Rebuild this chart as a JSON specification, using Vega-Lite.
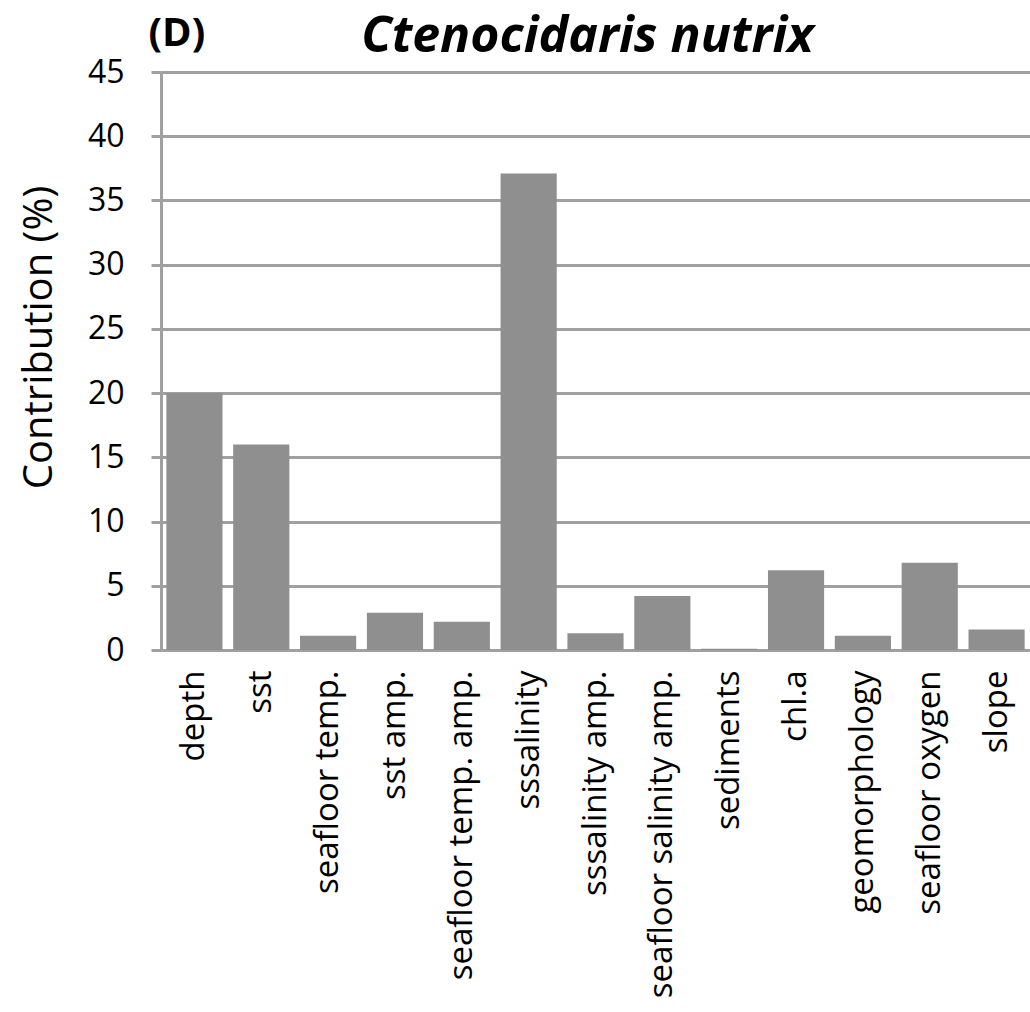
{
  "$schema": "https://vega.github.io/schema/vega-lite/v6.json",
  "autosize": {"type": "none"},
  "padding": {"left": 161, "top": 72, "right": 0, "bottom": 362},
  "width": 869,
  "height": 578,
  "background": "white",
  "title": {
    "text": "Ctenocidaris nutrix",
    "font": "Open Sans",
    "fontSize": 50,
    "fontWeight": "bold",
    "fontStyle": "italic",
    "color": "black",
    "anchor": "middle",
    "frame": "group",
    "baseline": "alphabetic",
    "offset": -89,
    "dx": -8
  },
  "data": {
    "values": [
      {"variable": "depth", "contribution": 20.0},
      {"variable": "sst", "contribution": 16.0},
      {"variable": "seafloor temp.", "contribution": 1.1},
      {"variable": "sst amp.", "contribution": 2.9},
      {"variable": "seafloor temp. amp.", "contribution": 2.2},
      {"variable": "sssalinity", "contribution": 37.1},
      {"variable": "sssalinity amp.", "contribution": 1.3},
      {"variable": "seafloor salinity amp.", "contribution": 4.2},
      {"variable": "sediments", "contribution": 0.1},
      {"variable": "chl.a", "contribution": 6.2},
      {"variable": "geomorphology", "contribution": 1.1},
      {"variable": "seafloor oxygen", "contribution": 6.8},
      {"variable": "slope", "contribution": 1.6}
    ]
  },
  "mark": {"type": "bar", "color": "#8f8f8f"},
  "encoding": {
    "x": {
      "field": "variable",
      "type": "nominal",
      "sort": null,
      "scale": {"paddingInner": 0.16, "paddingOuter": 0.08},
      "axis": {
        "title": "(D)",
        "titleFont": "Open Sans",
        "titleFontSize": 40,
        "titleFontWeight": "bold",
        "titleColor": "black",
        "titleAngle": 0,
        "titleAlign": "left",
        "titleBaseline": "alphabetic",
        "titleX": -13,
        "titleY": -605,
        "labelAngle": 270,
        "labelAlign": "right",
        "labelBaseline": "middle",
        "labelFont": "Open Sans",
        "labelFontSize": 33,
        "labelColor": "black",
        "labelPadding": 20,
        "labelLimit": 0,
        "ticks": false,
        "domainColor": "#a0a0a0",
        "domainWidth": 3
      }
    },
    "y": {
      "field": "contribution",
      "type": "quantitative",
      "scale": {"domain": [0, 45], "nice": false},
      "axis": {
        "title": "Contribution (%)",
        "titleFont": "Open Sans",
        "titleFontSize": 40,
        "titleFontWeight": "normal",
        "titleColor": "black",
        "titlePadding": 28,
        "titleY": 265,
        "values": [0, 5, 10, 15, 20, 25, 30, 35, 40, 45],
        "labelFont": "Open Sans",
        "labelFontSize": 32,
        "labelColor": "black",
        "labelPadding": 27,
        "tickSize": 10,
        "tickColor": "#a0a0a0",
        "tickWidth": 3,
        "domainColor": "#a0a0a0",
        "domainWidth": 3,
        "grid": true,
        "gridColor": "#a0a0a0",
        "gridWidth": 3,
        "gridOpacity": 1
      }
    }
  },
  "config": {
    "view": {"stroke": null},
    "axis": {"labelFlush": false, "labelOverlap": false}
  }
}
